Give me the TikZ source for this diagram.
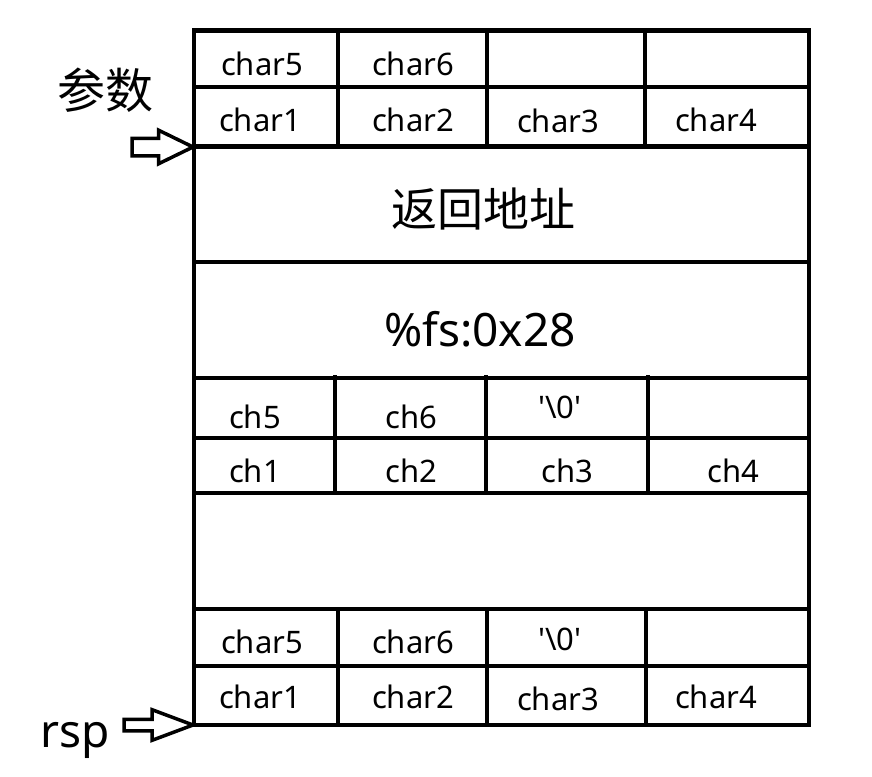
\documentclass[tikz,border=0pt]{standalone}
\usepackage{fontspec}
\setmainfont{Noto Sans}
\newfontfamily\cjk{Noto Sans CJK SC}
\usetikzlibrary{shapes.arrows}

\newcommand{\nulchar}{\textquotesingle\textbackslash0\textquotesingle}

\begin{document}
\begin{tikzpicture}[
    x=1pt, y=-1pt,
    frame/.style={line width=4.5pt},
    cell/.style={anchor=base, inner sep=0pt, font=\fontsize{31}{36}\selectfont},
    big/.style={anchor=base, inner sep=0pt, font=\fontsize{46}{54}\selectfont},
    pointer/.style={single arrow, draw, line width=3.5pt, inner xsep=0pt, outer sep=0pt, anchor=tip}
  ]
    \useasboundingbox (0,0) rectangle (872,776);

    % Frame and rows
    \draw[frame] (194,30.5) rectangle (809,725);
    \foreach \y in {87,146.5,262,378,438,493,609,666}
      \draw[frame] (194,\y) -- (809,\y);

    % Columns
    \foreach \x in {338,487,645}
      \draw[frame] (\x,30.5) -- (\x,146.5);
    \foreach \x in {335,486,648}
      \draw[frame] (\x,375) -- (\x,493);
    \foreach \x in {338,487,646}
      \draw[frame] (\x,609) -- (\x,725);

    % Arguments
    \node[cell] (argfive) at (262,75) {char5};
    \node[cell] (argsix) at (413,75) {char6};
    \node[cell] (argone) at (260,131) {char1};
    \node[cell] (argtwo) at (413,131) {char2};
    \node[cell] (argthree) at (558,132.5) {char3};
    \node[cell] (argfour) at (716,131) {char4};

    % Return address and canary
    \node[big] (retaddr) at (483,226) {\cjk 返回地址};
    \node[big] (canary) at (480,346) {\%fs:0x28};

    % Local buffer
    \node[cell] (chfive) at (255,428) {ch5};
    \node[cell] (chsix) at (411,428) {ch6};
    \node[cell] (chnul) at (560,418) {\nulchar};
    \node[cell] (chone) at (255,482) {ch1};
    \node[cell] (chtwo) at (411,482) {ch2};
    \node[cell] (chthree) at (567,482) {ch3};
    \node[cell] (chfour) at (733,482) {ch4};

    % Copy at the stack top
    \node[cell] (topfive) at (262,653) {char5};
    \node[cell] (topsix) at (413,653) {char6};
    \node[cell] (topnul) at (560,650) {\nulchar};
    \node[cell] (topone) at (260,708) {char1};
    \node[cell] (toptwo) at (413,708) {char2};
    \node[cell] (topthree) at (558,710) {char3};
    \node[cell] (topfour) at (716,708) {char4};

    % Pointers
    \node[big, font=\fontsize{48}{56}\selectfont] (args) at (105,108) {\cjk 参数};
    \node[pointer, minimum height=61pt, inner ysep=7pt, single arrow head extend=8pt,
      single arrow tip angle=52] (argptr) at (193,147) {};
    \node[big] (rsp) at (75,747) {rsp};
    \node[pointer, minimum height=69pt, inner ysep=4pt, single arrow head extend=9.5pt,
      single arrow tip angle=41] (rspptr) at (193,725) {};
  \end{tikzpicture}
\end{document}
